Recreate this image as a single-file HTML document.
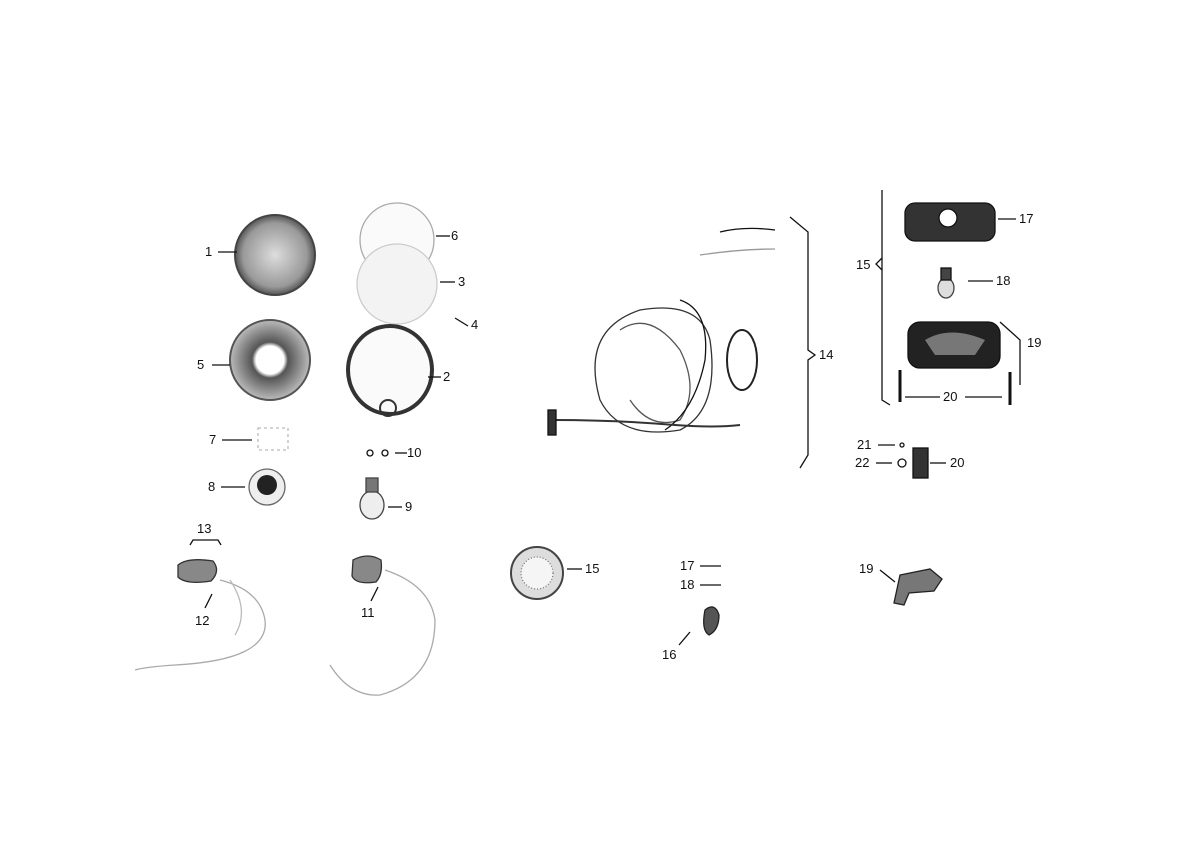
<!DOCTYPE html>
<html><head><meta charset="utf-8"><style>
html,body{margin:0;padding:0;background:#fff;}
svg{display:block}
text{font-family:"Liberation Sans",sans-serif;font-size:13px;fill:#111;}
</style></head><body>
<svg width="1200" height="849" viewBox="0 0 1200 849" xmlns="http://www.w3.org/2000/svg">
<rect width="1200" height="849" fill="#fff"/>
<defs>
<radialGradient id="hl" cx="50%" cy="50%" r="50%"><stop offset="0" stop-color="#ddd"/><stop offset="0.8" stop-color="#999"/><stop offset="1" stop-color="#555"/></radialGradient>
<radialGradient id="rf" cx="50%" cy="50%" r="50%"><stop offset="0" stop-color="#fff"/><stop offset="0.35" stop-color="#fff"/><stop offset="0.45" stop-color="#555"/><stop offset="1" stop-color="#bbb"/></radialGradient>
</defs>
<g stroke="#111" stroke-width="1.3" fill="none">
<!-- 1 headlight -->
<circle cx="275" cy="255" r="40" fill="url(#hl)" stroke="#444" stroke-width="2"/>
<line x1="218" y1="252" x2="237" y2="252"/>
<!-- 6, 3 lenses -->
<circle cx="397" cy="240" r="37" stroke="#aaa" fill="#fafafa"/>
<circle cx="397" cy="284" r="40" stroke="#ccc" fill="#f3f3f3"/>
<line x1="436" y1="236" x2="450" y2="236"/>
<line x1="440" y1="282" x2="455" y2="282"/>
<line x1="455" y1="318" x2="468" y2="326"/>
<!-- 5 reflector -->
<circle cx="270" cy="360" r="40" fill="url(#rf)" stroke="#555" stroke-width="2"/>
<line x1="212" y1="365" x2="230" y2="365"/>
<!-- 2 rim -->
<ellipse cx="390" cy="370" rx="42" ry="44" stroke="#333" stroke-width="4" fill="#fafafa"/>
<circle cx="388" cy="408" r="8" stroke="#333" stroke-width="2"/>
<line x1="428" y1="377" x2="441" y2="377"/>
<!-- 7 -->
<rect x="258" y="428" width="30" height="22" stroke="#bbb" stroke-dasharray="3 3"/>
<line x1="222" y1="440" x2="252" y2="440"/>
<!-- 10 -->
<circle cx="370" cy="453" r="3"/><circle cx="385" cy="453" r="3"/>
<line x1="395" y1="453" x2="407" y2="453"/>
<!-- 8 -->
<circle cx="267" cy="487" r="18" fill="#eee" stroke="#666"/>
<circle cx="267" cy="485" r="10" fill="#222" stroke="none"/>
<line x1="221" y1="487" x2="245" y2="487"/>
<!-- 9 bulb -->
<ellipse cx="372" cy="505" rx="12" ry="14" fill="#eee" stroke="#444"/>
<rect x="366" y="478" width="12" height="14" fill="#777" stroke="#444"/>
<line x1="388" y1="507" x2="402" y2="507"/>
<!-- 13/12 switch -->
<path d="M190 545 L193 540 L218 540 L221 545"/>
<path d="M178 565 q10 -8 35 -4 q8 10 -2 20 q-25 4 -33 -4 z" fill="#888" stroke="#333"/>
<path d="M220 580 q40 10 45 40 q5 40 -90 45 q-30 2 -40 5" stroke="#aaa"/>
<path d="M230 580 q20 30 5 55" stroke="#bbb"/>
<line x1="212" y1="594" x2="205" y2="608"/>
<!-- 11 switch -->
<path d="M353 560 q15 -8 28 0 q2 15 -5 22 q-20 3 -24 -6 z" fill="#888" stroke="#333"/>
<path d="M385 570 q45 15 50 50 q0 60 -55 75 q-30 2 -50 -30" stroke="#aaa"/>
<line x1="378" y1="587" x2="371" y2="601"/>
<!-- 15 horn -->
<circle cx="537" cy="573" r="26" fill="#ddd" stroke="#444" stroke-width="2"/>
<circle cx="537" cy="573" r="16" fill="#f5f5f5" stroke="#777" stroke-dasharray="1 2"/>
<line x1="567" y1="569" x2="582" y2="569"/>
<!-- 17/18/16 small -->
<line x1="700" y1="566" x2="721" y2="566"/><line x1="700" y1="585" x2="721" y2="585"/>
<path d="M705 610 q10 -8 14 5 q0 15 -10 20 q-8 -5 -4 -25z" fill="#555" stroke="#222"/>
<line x1="690" y1="632" x2="679" y2="645"/>
<!-- 19 small -->
<path d="M900 575 l30 -6 l12 10 l-8 12 l-25 2 l-5 12 l-10 -2z" fill="#777" stroke="#222"/>
<line x1="880" y1="570" x2="895" y2="582"/>
<!-- harness 14 -->
<path d="M720 232 q25 -6 55 -2"/><path d="M700 255 q40 -6 75 -6" stroke="#999"/>
<path d="M640 310 q-60 20 -40 90 q20 40 80 30 q40 -20 30 -90 q-10 -40 -70 -30" stroke="#333"/>
<path d="M620 330 q30 -20 60 20 q20 40 0 70 q-30 10 -50 -20" stroke="#555"/>
<path d="M680 300 q30 10 25 60 q-10 50 -40 70"/>
<path d="M555 420 q60 0 120 5 q40 3 65 0" stroke="#333" stroke-width="2"/>
<rect x="548" y="410" width="8" height="25" fill="#333"/>
<ellipse cx="742" cy="360" rx="15" ry="30" stroke="#222" stroke-width="2"/>
<path d="M790 217 L808 232 L808 350 L815 355 L808 360 L808 455 L800 468"/>
<!-- right group -->
<path d="M882 190 L882 400 L890 405 M882 258 L876 264 L882 270"/>
<rect x="905" y="203" width="90" height="38" rx="10" fill="#333" stroke="#111"/>
<circle cx="948" cy="218" r="9" fill="#fff" stroke="#111"/>
<line x1="998" y1="219" x2="1016" y2="219"/>
<ellipse cx="946" cy="288" rx="8" ry="10" fill="#ddd" stroke="#444"/>
<rect x="941" y="268" width="10" height="12" fill="#444"/>
<line x1="968" y1="281" x2="993" y2="281"/>
<rect x="908" y="322" width="92" height="46" rx="12" fill="#222" stroke="#111"/>
<path d="M925 340 q25 -15 60 0 l-10 15 l-40 0z" fill="#777" stroke="none"/>
<path d="M1000 322 L1020 340 L1020 385"/>
<line x1="900" y1="370" x2="900" y2="402" stroke-width="3"/>
<line x1="1010" y1="372" x2="1010" y2="405" stroke-width="3"/>
<line x1="905" y1="397" x2="940" y2="397"/><line x1="965" y1="397" x2="1002" y2="397"/>
<line x1="878" y1="445" x2="895" y2="445"/><circle cx="902" cy="445" r="2"/>
<line x1="876" y1="463" x2="892" y2="463"/><circle cx="902" cy="463" r="4"/>
<rect x="913" y="448" width="15" height="30" fill="#333"/>
<line x1="930" y1="463" x2="946" y2="463"/>
</g>
<text x="205" y="256">1</text><text x="451" y="240">6</text><text x="458" y="286">3</text>
<text x="471" y="329">4</text><text x="197" y="369">5</text><text x="443" y="381">2</text>
<text x="209" y="444">7</text><text x="407" y="457">10</text><text x="208" y="491">8</text>
<text x="405" y="511">9</text><text x="197" y="533">13</text><text x="195" y="625">12</text>
<text x="361" y="617">11</text><text x="585" y="573">15</text><text x="680" y="570">17</text>
<text x="680" y="589">18</text><text x="662" y="659">16</text><text x="859" y="573">19</text>
<text x="819" y="359">14</text><text x="1019" y="223">17</text><text x="856" y="269">15</text>
<text x="996" y="285">18</text><text x="1027" y="347">19</text><text x="943" y="401">20</text>
<text x="857" y="449">21</text><text x="855" y="467">22</text><text x="950" y="467">20</text>
</svg>
</body></html>
